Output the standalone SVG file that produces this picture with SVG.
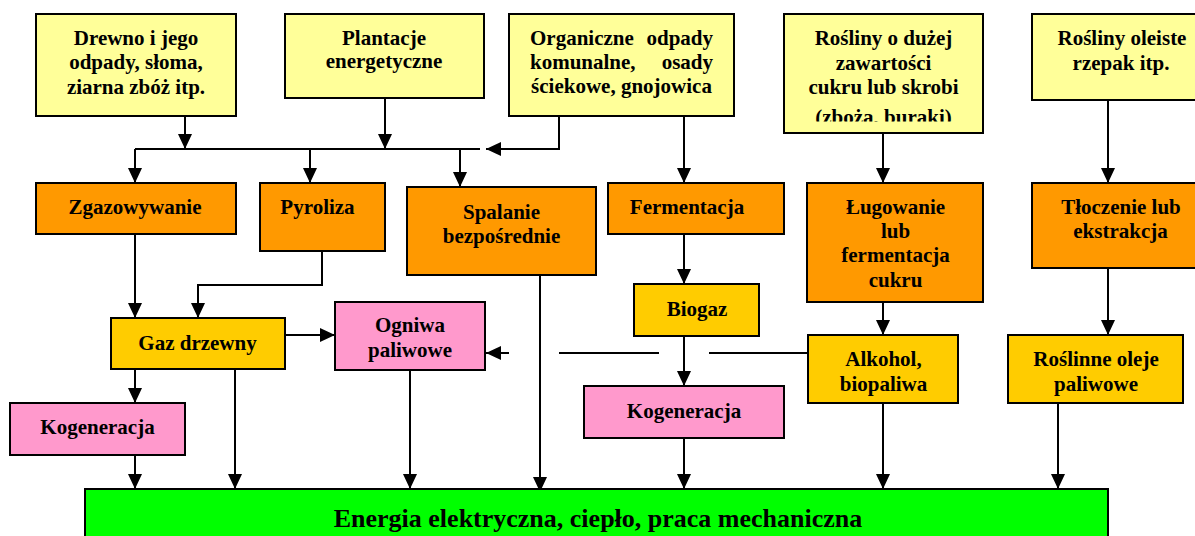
<svg xmlns="http://www.w3.org/2000/svg" width="1195" height="536" viewBox="0 0 1195 536">
<style>
rect{stroke:#000;stroke-width:2}
.y1{fill:#FFFF99}.or{fill:#FF9900}.go{fill:#FFCC00}.pk{fill:#FF99CC}.gr{fill:#00FF00}
text{font-family:"Liberation Serif","Times New Roman",serif;font-weight:bold;font-size:21px;fill:#000;text-anchor:middle}
.big{font-size:26px}
.st{text-anchor:start}.en{text-anchor:end}
#connectors path{fill:none;stroke:#000;stroke-width:2}
</style>
<defs>
<marker id="ah" markerUnits="userSpaceOnUse" markerWidth="15" markerHeight="14" refX="15" refY="7" orient="auto" viewBox="0 0 15 14">
<path d="M0,0 L15,7 L0,14 z" fill="#000"/>
</marker>
<clipPath id="clip4"><rect x="780" y="10" width="210" height="111.5" style="stroke:none"/></clipPath>
</defs>
<rect width="1195" height="536" fill="#fff" style="stroke:none"/>

<g id="connectors">
<path d="M185,116 V149" marker-end="url(#ah)"/>
<path d="M385,98 V149" marker-end="url(#ah)"/>
<path d="M135,149 H480"/>
<path d="M559,116 V149 H486" marker-end="url(#ah)"/>
<path d="M135,149 V183" marker-end="url(#ah)"/>
<path d="M310,149 V183" marker-end="url(#ah)"/>
<path d="M460,149 V187" marker-end="url(#ah)"/>
<path d="M684,116 V183" marker-end="url(#ah)"/>
<path d="M883,133 V183" marker-end="url(#ah)"/>
<path d="M1108,100 V183" marker-end="url(#ah)"/>
<path d="M135,234 V318" marker-end="url(#ah)"/>
<path d="M322,251 V285 H198 V318" marker-end="url(#ah)"/>
<path d="M285,335 H335" marker-end="url(#ah)"/>
<path d="M684,234 V284" marker-end="url(#ah)"/>
<path d="M883,302 V335" marker-end="url(#ah)"/>
<path d="M1108,268 V335" marker-end="url(#ah)"/>
<path d="M135,369 V403" marker-end="url(#ah)"/>
<path d="M235,369 V489" marker-end="url(#ah)"/>
<path d="M135,455 V489" marker-end="url(#ah)"/>
<path d="M410,370 V489" marker-end="url(#ah)"/>
<path d="M540,275 V492" marker-end="url(#ah)"/>
<path d="M684,336 V386" marker-end="url(#ah)"/>
<path d="M684,438 V489" marker-end="url(#ah)"/>
<path d="M883,403 V489" marker-end="url(#ah)"/>
<path d="M1058,403 V489" marker-end="url(#ah)"/>
<path d="M808,353 H709"/>
<path d="M659,353 H559"/>
<path d="M509,353 H486" marker-end="url(#ah)"/>
</g>

<g id="drewno">
<rect class="y1" x="36" y="14" width="200" height="102"/>
<text x="136" y="45">Drewno i jego</text>
<text x="136" y="69">odpady, słoma,</text>
<text x="136" y="94">ziarna zbóż itp.</text>
</g>
<g id="plantacje">
<rect class="y1" x="285" y="14" width="199" height="84"/>
<text x="384" y="45">Plantacje</text>
<text x="384" y="68">energetyczne</text>
</g>
<g id="organiczne">
<rect class="y1" x="509" y="14" width="225" height="102"/>
<text class="st" x="530" y="45">Organiczne</text>
<text class="en" x="713" y="45">odpady</text>
<text class="st" x="530" y="69">komunalne,</text>
<text class="en" x="713" y="69">osady</text>
<text x="621.5" y="93">ściekowe, gnojowica</text>
</g>
<g id="cukier">
<rect class="y1" x="784" y="14" width="199" height="119"/>
<text x="883.5" y="45">Rośliny o dużej</text>
<text x="883.5" y="70">zawartości</text>
<text x="883.5" y="94">cukru lub skrobi</text>
<text x="883.5" y="123.5" clip-path="url(#clip4)">(zboża, buraki)</text>
</g>
<g id="oleiste">
<rect class="y1" x="1032" y="14" width="180" height="86"/>
<text x="1122" y="45">Rośliny oleiste</text>
<text x="1121" y="70">rzepak itp.</text>
</g>

<g id="zgazowywanie">
<rect class="or" x="36" y="183" width="200" height="51"/>
<text x="135" y="214">Zgazowywanie</text>
</g>
<g id="piroliza">
<rect class="or" x="260" y="183" width="125" height="68"/>
<text x="317.5" y="214">Pyroliza</text>
</g>
<g id="spalanie">
<rect class="or" x="407" y="187" width="189" height="88"/>
<text x="501.5" y="219">Spalanie</text>
<text x="501.5" y="243">bezpośrednie</text>
</g>
<g id="fermentacja">
<rect class="or" x="608" y="183" width="176" height="51"/>
<text x="687" y="214">Fermentacja</text>
</g>
<g id="lugowanie">
<rect class="or" x="807" y="183" width="176" height="119"/>
<text x="895.5" y="214">Ługowanie</text>
<text x="895.5" y="238">lub</text>
<text x="895.5" y="262">fermentacja</text>
<text x="895.5" y="287">cukru</text>
</g>
<g id="tloczenie">
<rect class="or" x="1032" y="183" width="180" height="85"/>
<text x="1121" y="214">Tłoczenie lub</text>
<text x="1120.5" y="238">ekstrakcja</text>
</g>

<g id="gaz">
<rect class="go" x="111" y="318" width="174" height="51"/>
<text x="197.5" y="350">Gaz drzewny</text>
</g>
<g id="ogniwa">
<rect class="pk" x="335" y="302" width="150" height="68"/>
<text x="410" y="332">Ogniwa</text>
<text x="410" y="357">paliwowe</text>
</g>
<g id="biogaz">
<rect class="go" x="634" y="284" width="125" height="52"/>
<text x="697" y="316">Biogaz</text>
</g>
<g id="alkohol">
<rect class="go" x="808" y="335" width="150" height="68"/>
<text x="883.5" y="366">Alkohol,</text>
<text x="883.5" y="391">biopaliwa</text>
</g>
<g id="oleje">
<rect class="go" x="1008" y="335" width="175" height="68"/>
<text x="1096" y="366">Roślinne oleje</text>
<text x="1096" y="391">paliwowe</text>
</g>

<g id="kogeneracja1">
<rect class="pk" x="10" y="403" width="175" height="52"/>
<text x="97.5" y="434">Kogeneracja</text>
</g>
<g id="kogeneracja2">
<rect class="pk" x="584" y="386" width="200" height="52"/>
<text x="684" y="418">Kogeneracja</text>
</g>

<g id="energia">
<rect class="gr" x="85" y="489" width="1023" height="60"/>
<text class="big" x="598" y="527">Energia elektryczna, ciepło, praca mechaniczna</text>
</g>
</svg>
